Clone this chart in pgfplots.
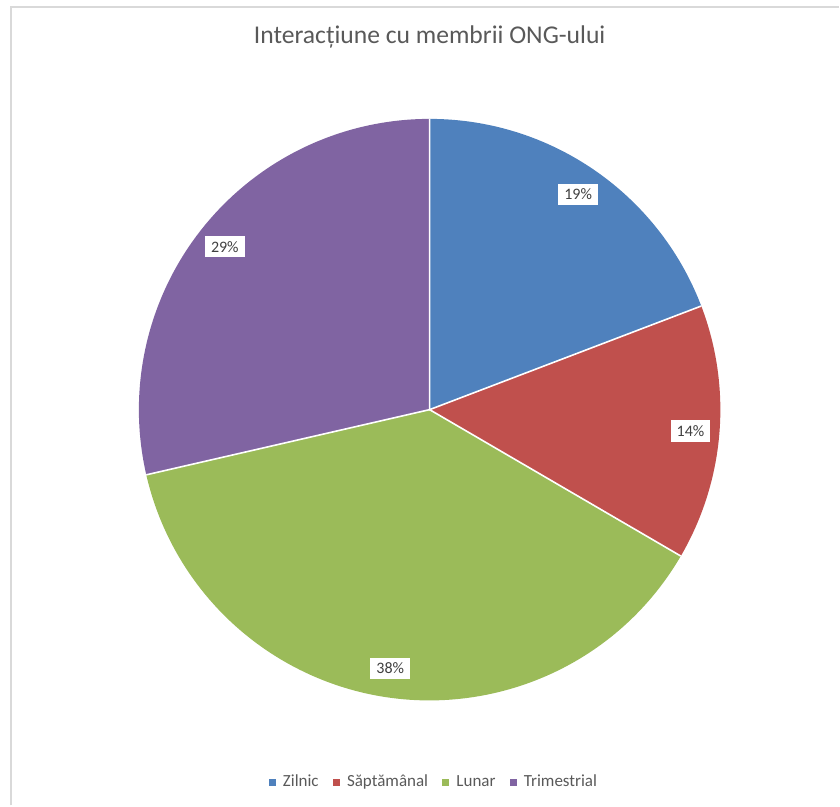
\documentclass[border=0pt]{standalone}
\usepackage{pgfplots}
\pgfplotsset{compat=1.18}
\usepackage{pgfplotstable}
\usepackage{fontspec}
\setmainfont{Carlito}
\definecolor{cA}{HTML}{4F81BD}
\definecolor{cB}{HTML}{C0504D}
\definecolor{cC}{HTML}{9BBB59}
\definecolor{cD}{HTML}{8064A2}
\definecolor{titlegray}{HTML}{595959}
\definecolor{labgray}{HTML}{404040}
\definecolor{framegray}{HTML}{D9D9D9}

\pgfplotstableread{
name value
Zilnic 19.2
Saptamanal 14.2
Lunar 38.0
Trimestrial 28.6
}\piedata
\pgfplotstablegetelem{0}{value}\of\piedata\let\vA\pgfplotsretval
\pgfplotstablegetelem{1}{value}\of\piedata\let\vB\pgfplotsretval
\pgfplotstablegetelem{2}{value}\of\piedata\let\vC\pgfplotsretval
\pgfplotstablegetelem{3}{value}\of\piedata\let\vD\pgfplotsretval
\pgfmathsetmacro\aA{90}
\pgfmathsetmacro\aB{\aA-3.6*\vA}
\pgfmathsetmacro\aC{\aB-3.6*\vB}
\pgfmathsetmacro\aD{\aC-3.6*\vC}
\pgfmathsetmacro\aE{\aD-3.6*\vD}
\pgfmathsetmacro\mA{(\aA+\aB)/2}
\pgfmathsetmacro\mB{(\aB+\aC)/2}
\pgfmathsetmacro\mC{(\aC+\aD)/2}
\pgfmathsetmacro\mD{(\aD+\aE)/2}
\def\R{291}
\def\Rpt{145.5pt}
\def\L{262}

\begin{document}%
\begin{tikzpicture}
\begin{axis}[
  x=0.5pt, y=0.5pt,
  xmin=-430, xmax=410, ymin=-396, ymax=410,
  hide axis, clip=false,
  /pgf/number format/assume math mode=true,
  legend columns=4,
  legend style={draw=none, fill=none, text=titlegray,
    font=\fontsize{8.5}{10}\selectfont,
    at={(0.518,0.0285)}, anchor=center,
    /tikz/every even column/.append style={column sep=5pt},
    cells={anchor=west}},
]
\addlegendimage{legend image code/.code={\fill[cA] (0pt,-1.6pt) rectangle (3.2pt,1.6pt); \path[draw=none,fill=none] (0pt,0pt) -- (5pt,0pt);}}
\addlegendentry{Zilnic}
\addlegendimage{legend image code/.code={\fill[cB] (0pt,-1.6pt) rectangle (3.2pt,1.6pt); \path[draw=none,fill=none] (0pt,0pt) -- (5pt,0pt);}}
\addlegendentry{Săptămânal}
\addlegendimage{legend image code/.code={\fill[cC] (0pt,-1.6pt) rectangle (3.2pt,1.6pt); \path[draw=none,fill=none] (0pt,0pt) -- (5pt,0pt);}}
\addlegendentry{Lunar}
\addlegendimage{legend image code/.code={\fill[cD] (0pt,-1.6pt) rectangle (3.2pt,1.6pt); \path[draw=none,fill=none] (0pt,0pt) -- (5pt,0pt);}}
\addlegendentry{Trimestrial}

\path (axis cs:-430,-396) rectangle (axis cs:410,410);
\draw[framegray, line width=0.75pt] (axis cs:-419,-396) -- (axis cs:-419,403) -- (axis cs:410,403);

\fill[cA] (axis cs:0,0) -- (axis cs:{\R*cos(\aA)},{\R*sin(\aA)}) arc[start angle=\aA, end angle=\aB, radius=\Rpt] -- cycle;
\fill[cB] (axis cs:0,0) -- (axis cs:{\R*cos(\aB)},{\R*sin(\aB)}) arc[start angle=\aB, end angle=\aC, radius=\Rpt] -- cycle;
\fill[cC] (axis cs:0,0) -- (axis cs:{\R*cos(\aC)},{\R*sin(\aC)}) arc[start angle=\aC, end angle=\aD, radius=\Rpt] -- cycle;
\fill[cD] (axis cs:0,0) -- (axis cs:{\R*cos(\aD)},{\R*sin(\aD)}) arc[start angle=\aD, end angle=\aE, radius=\Rpt] -- cycle;
\draw[white, line width=0.8pt] (axis cs:{\R*cos(\aA)},{\R*sin(\aA)}) -- (axis cs:0,0) -- (axis cs:{\R*cos(\aB)},{\R*sin(\aB)});
\draw[white, line width=0.8pt] (axis cs:{\R*cos(\aC)},{\R*sin(\aC)}) -- (axis cs:0,0) -- (axis cs:{\R*cos(\aD)},{\R*sin(\aD)});

\tikzset{lab/.style={fill=white, inner xsep=3pt, inner ysep=2.5pt, text=labgray, font=\fontsize{8}{9.6}\selectfont}}
\node[lab] at (axis cs:{\L*cos(\mA)},{\L*sin(\mA)}) {\pgfmathprintnumber[fixed,precision=0]{\vA}\%};
\node[lab] at (axis cs:{\L*cos(\mB)},{\L*sin(\mB)}) {\pgfmathprintnumber[fixed,precision=0]{\vB}\%};
\node[lab] at (axis cs:{\L*cos(\mC)},{\L*sin(\mC)}) {\pgfmathprintnumber[fixed,precision=0]{\vC}\%};
\node[lab] at (axis cs:{\L*cos(\mD)},{\L*sin(\mD)}) {\pgfmathprintnumber[fixed,precision=0]{\vD}\%};

\node[anchor=base, text=titlegray, font=\fontsize{12.8}{15}\selectfont] at (axis cs:0,366) {Interacțiune cu membrii ONG-ului};
\end{axis}
\end{tikzpicture}%
\end{document}
